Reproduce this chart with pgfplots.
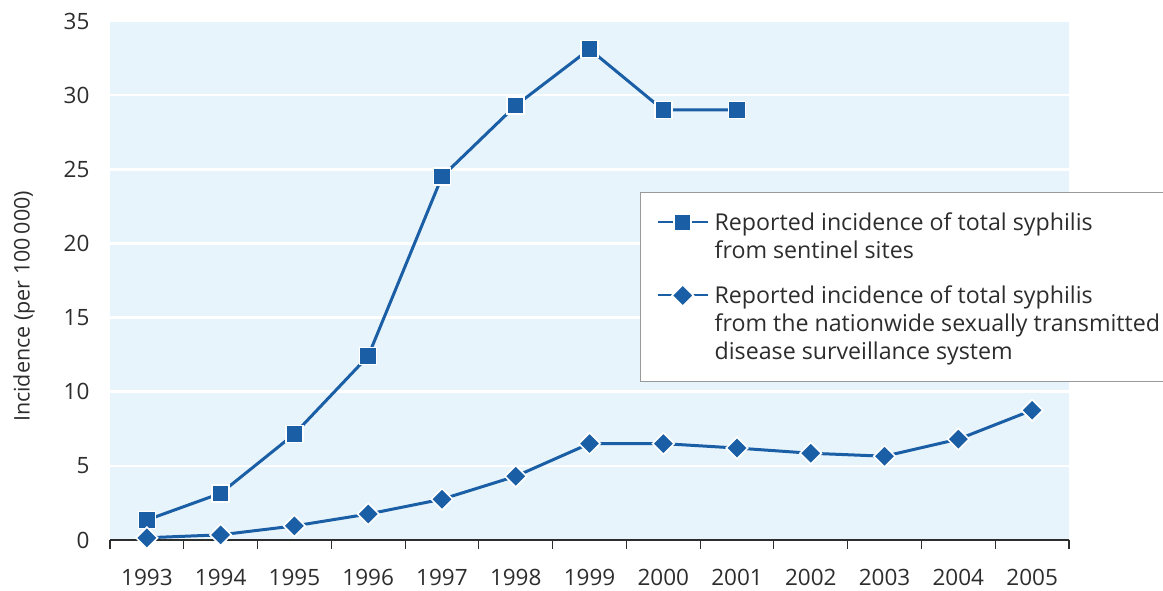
\documentclass[border=0pt]{standalone}
\usepackage{fontspec}
\setmainfont{Open Sans}
\usepackage{pgfplots}
\pgfplotsset{compat=1.18}
\definecolor{lineblue}{RGB}{26,94,165}
\definecolor{bgblue}{RGB}{232,244,252}
\definecolor{txt}{RGB}{45,45,45}
\pgfplotsset{
  legimgA/.style={legend image code/.code={%
    \draw[mark repeat=2,mark phase=2,##1, line width=2pt, yshift=14pt] plot coordinates {(0pt,0pt) (25pt,0pt) (50pt,0pt)};}},
  legimgB/.style={legend image code/.code={%
    \draw[mark repeat=2,mark phase=2,##1, line width=2pt, yshift=28pt] plot coordinates {(0pt,0pt) (25pt,0pt) (50pt,0pt)};}},
}
\begin{document}
\begin{tikzpicture}[x=1pt,y=1pt]
\begin{axis}[
  scale only axis,
  width=959pt, height=519pt,
  at={(0pt,0pt)}, anchor=south west,
  xmin=-0.5, xmax=12.5, ymin=0, ymax=35,
  axis background/.style={fill=bgblue},
  separate axis lines,
  axis x line*=bottom,
  axis y line*=left,
  x axis line style={-, draw=txt, line width=1.3pt},
  y axis line style={draw=none},
  xtick={-0.5,0.5,...,12.5},
  x tick label as interval,
  xticklabels={1993,1994,1995,1996,1997,1998,1999,2000,2001,2002,2003,2004,2005},
  x tick style={draw=txt, line width=1.1pt},
  major tick length=9pt,
  tick align=outside,
  ytick={0,5,...,35},
  y tick style={draw=none},
  ymajorgrids,
  grid style={white, line width=2.5pt},
  /pgf/number format/assume math mode=true,
  tick label style={font=\fontsize{22.5}{26}\selectfont, text=txt},
  xticklabel style={inner sep=0pt, yshift=-20pt},
  yticklabel style={xshift=-8pt},
  ylabel={Incidence (per 100\,000)},
  ylabel style={font=\fontsize{21.5}{26}\selectfont, text=txt, yshift=22pt, xshift=-26pt},
  clip=false,
  legend style={at={(0.5527,0.6705)}, anchor=north west, draw=gray!80, line width=1.2pt, fill=white,
    font=\fontsize{23.2}{28}\selectfont, text=txt, inner xsep=16pt, inner ysep=18pt, row sep=22pt,
    column sep=4pt, cells={align=left}},
  legend cell align=left,
]
\addplot[lineblue, line width=3pt, mark=square*, mark size=8.5pt,
  mark options={draw=white, line width=1.6pt, fill=lineblue}, legimgA]
  coordinates {(0,1.35) (1,3.15) (2,7.15) (3,12.4) (4,24.5) (5,29.3) (6,33.1) (7,29.0) (8,29.0)};
\addlegendentry{Reported incidence of total syphilis\\from sentinel sites}
\addplot[lineblue, line width=3pt, mark=square*, mark size=7.6pt,
  mark options={rotate=45, draw=white, line width=1.6pt, fill=lineblue}, legimgB]
  coordinates {(0,0.15) (1,0.35) (2,0.95) (3,1.75) (4,2.75) (5,4.3) (6,6.5) (7,6.5) (8,6.2) (9,5.85) (10,5.65) (11,6.8) (12,8.75)};
\addlegendentry{Reported incidence of total syphilis\\from the nationwide sexually transmitted\\disease surveillance system}
\end{axis}
\pgfresetboundingbox
\path[use as bounding box] (-110pt,-50pt) rectangle (1053pt,540pt);
\end{tikzpicture}
\end{document}
